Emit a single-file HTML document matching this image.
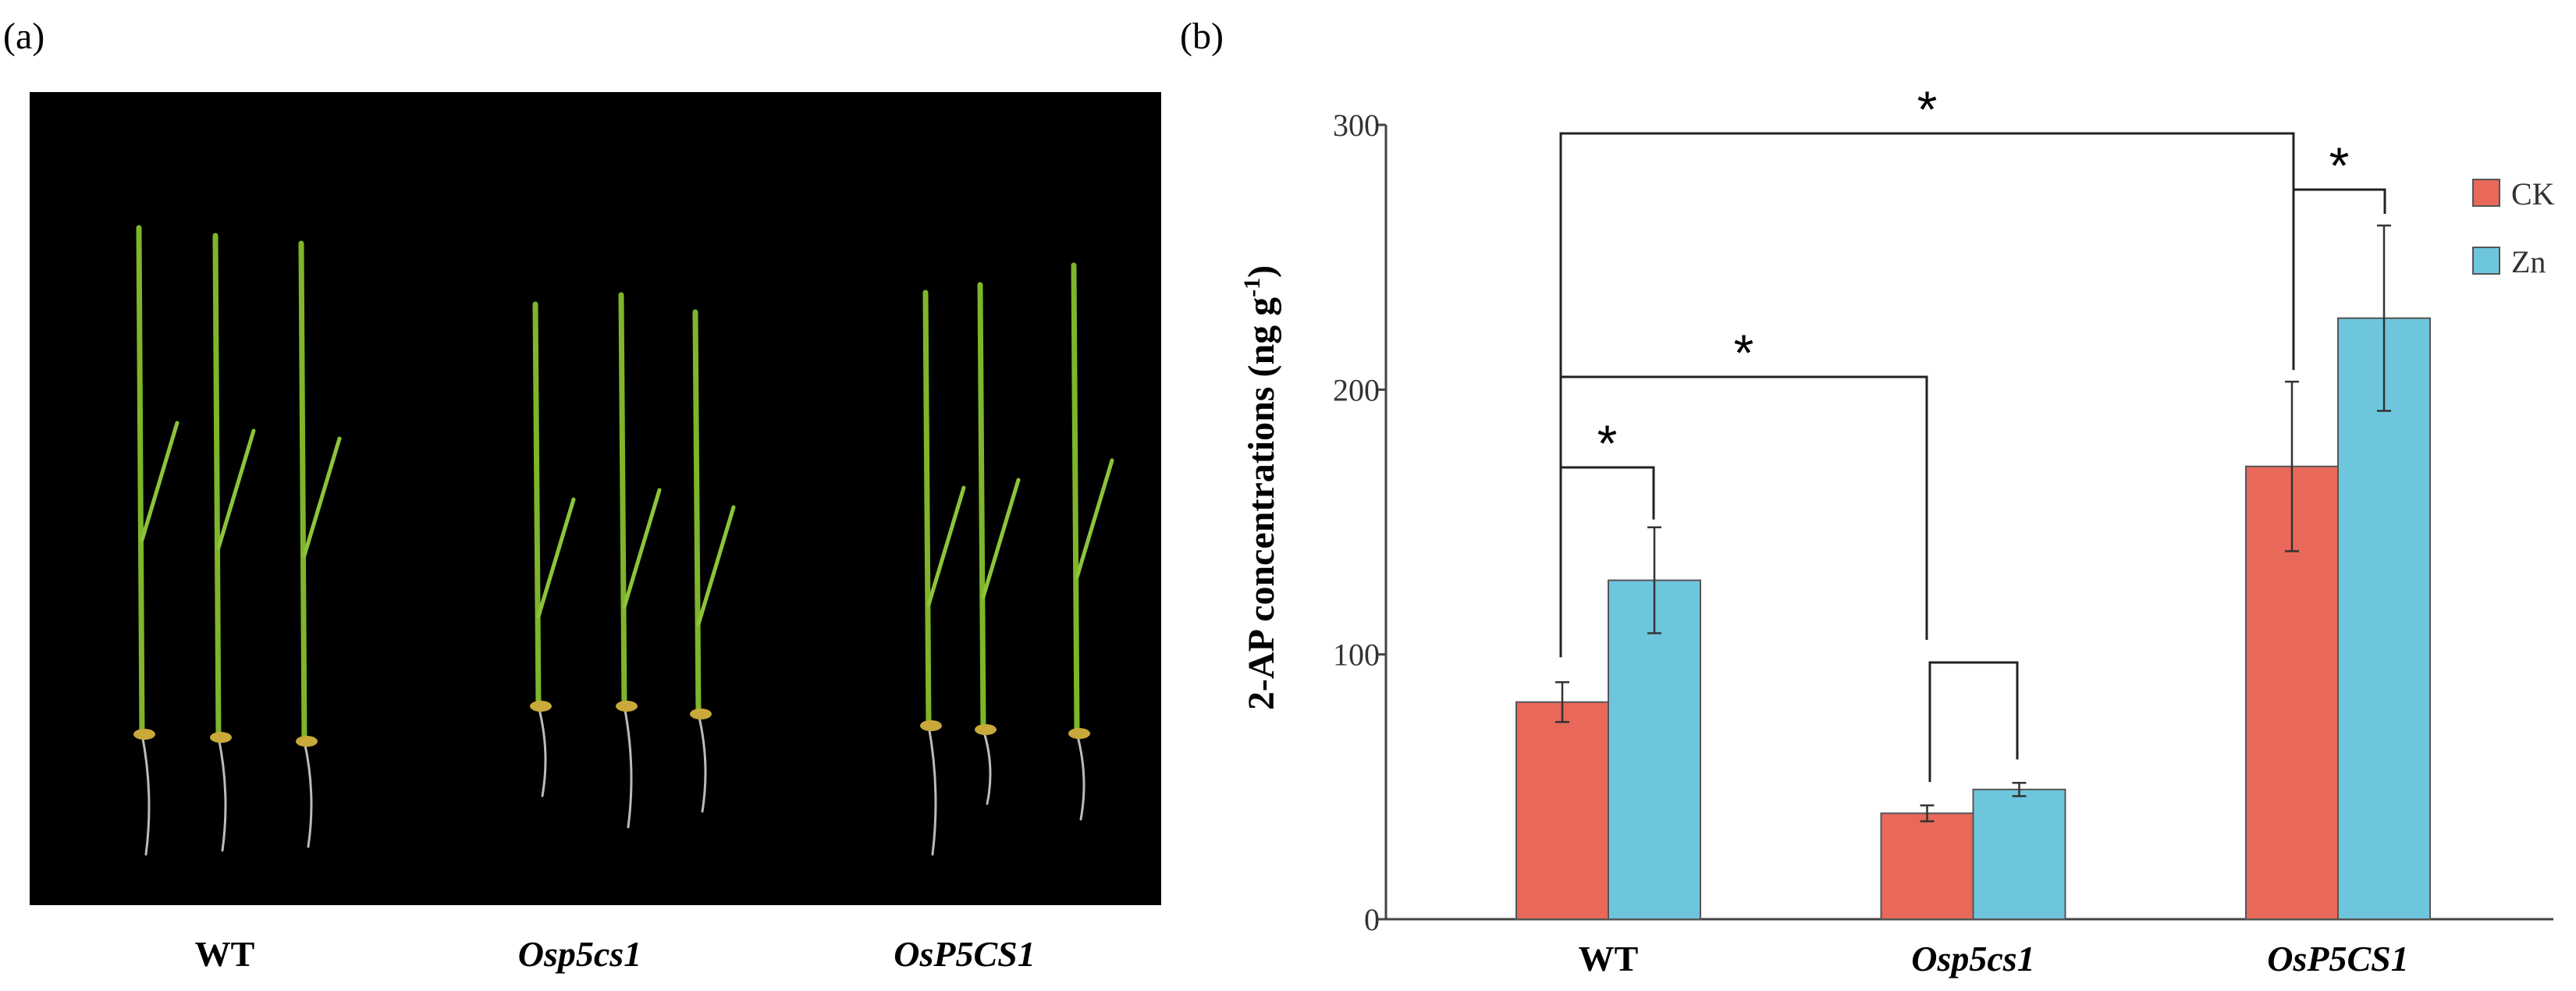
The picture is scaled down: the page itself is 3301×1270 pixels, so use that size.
<!DOCTYPE html>
<html><head><meta charset="utf-8"><style>
html,body{margin:0;padding:0;background:#fff;}
svg{display:block;font-family:"Liberation Serif",serif;}
</style></head><body>
<svg width="3301" height="1270" viewBox="0 0 3301 1270" xmlns="http://www.w3.org/2000/svg">
<g>
<text x="4" y="62" font-size="48">(a)</text>
<rect x="38" y="118" width="1450" height="1042" fill="#000"/>
<g id="plants" fill="none" stroke-linecap="round"></g>
<text x="288" y="1238" font-size="46" font-weight="bold" text-anchor="middle">WT</text>
<text x="743" y="1238" font-size="46" font-weight="bold" font-style="italic" text-anchor="middle">Osp5cs1</text>
<text x="1236" y="1238" font-size="46" font-weight="bold" font-style="italic" text-anchor="middle">OsP5CS1</text>
</g>
<g id="chart">
<text x="1512" y="62" font-size="48">(b)</text>
</g>
</svg>
<script>
const NS='http://www.w3.org/2000/svg';
function mk(p,t,a){const e=document.createElementNS(NS,t);for(const k in a)e.setAttribute(k,a[k]);p.appendChild(e);return e;}
const plants=document.getElementById('plants');
const P=[[182,292,941,1095],[280,302,945,1090],[390,312,950,1085],[690,390,905,1020],[800,378,905,1060],[895,400,915,1040],[1190,375,930,1095],[1260,365,935,1030],[1380,340,940,1050]];
P.forEach((p,i)=>{
  const s=mk(plants,'path',{d:`M${p[0]} ${p[2]} L${p[0]-4} ${p[1]}`,stroke:'#7fb52a','stroke-width':7});
  
  
  const l=mk(plants,'path',{d:`M${p[0]} ${p[1]+400} L${p[0]+45} ${p[1]+250}`,stroke:'#8cc43a','stroke-width':5});
  
  
  const r=mk(plants,'path',{d:`M${p[0]} ${p[2]} Q${p[0]+15} ${(p[2]+p[3])/2} ${p[0]+5} ${p[3]}`,stroke:'#bbb','stroke-width':3});
  
  
  const sd=mk(plants,'ellipse',{cx:p[0]+3,cy:p[2],rx:14,ry:7,fill:'#c9a93a'});
  
  
});

const categories=['WT','Osp5cs1','OsP5CS1'];
const ckValues=[82,40,171];
const ckErrors=[7.5,3,32];
const znValues=[128,49,227];
const znErrors=[20,2.5,35];
const yTicks=[0,100,200,300];
const seriesNames=['CK','Zn'];

const g=document.getElementById('chart');
const X0=1776,X1=3272,Y0=1178,Y300=160;
const y=v=>Y0-(v/300)*(Y0-Y300);
const groupCenter=i=>2061+i*467.5;
const BW=118;

let e=mk(g,'line',{x1:X0,y1:Y0,x2:X1,y2:Y0,stroke:'#444','stroke-width':3});


e=mk(g,'line',{x1:X0,y1:Y0,x2:X0,y2:Y300,stroke:'#444','stroke-width':3});


yTicks.forEach(t=>{
  const tk=mk(g,'line',{x1:X0-10,y1:y(t),x2:X0,y2:y(t),stroke:'#444','stroke-width':3});
  
  
  const tl=mk(g,'text',{x:X0-8,y:y(t)+14,'font-size':40,'text-anchor':'end',fill:'#333'});
  tl.textContent=t;
  
  
});
const yt=mk(g,'text',{x:0,y:0,'font-size':48,'font-weight':'bold','text-anchor':'middle',transform:'translate(1632,625) rotate(-90)'});
yt.innerHTML='2-AP concentrations (ng g<tspan font-size="30" dy="-18">-1</tspan><tspan dy="18">)</tspan>';



function bar(x,v,err,color,name){
  const r=mk(g,'rect',{x:x,y:y(v),width:BW,height:Y0-y(v),fill:color,stroke:'#555','stroke-width':2});
  
  
  const cx=x+BW/2;
  const eb=mk(g,'path',{d:`M${cx} ${y(v+err)}V${y(v-err)}M${cx-9} ${y(v+err)}H${cx+9}M${cx-9} ${y(v-err)}H${cx+9}`,stroke:'#333','stroke-width':2.5,fill:'none'});
  
  
}
categories.forEach((c,i)=>{
  const gc=groupCenter(i);
  bar(gc-BW,ckValues[i],ckErrors[i],'#e8695a','bar-ck-'+c.toLowerCase());
  bar(gc,znValues[i],znErrors[i],'#6ec6dd','bar-zn-'+c.toLowerCase());
  const tl=mk(g,'text',{x:gc,y:1244,'font-size':46,'font-weight':'bold','text-anchor':'middle','font-style':i?'italic':'normal'});
  tl.textContent=c;
  
  
});

const br=[
  [2000,y(ckValues[0]+ckErrors[0])-32,2939,y(ckValues[2]+ckErrors[2])-15,171,true],
  [2000,580,2469,820,483,true],
  [2000,y(ckValues[0]+ckErrors[0])-32,2119,y(znValues[0]+znErrors[0])-10,599,true],
  [2473,y(ckValues[1]+ckErrors[1])-30,2585,y(znValues[1]+znErrors[1])-30,849,false],
  [2939,243,3056,y(znValues[2]+znErrors[2])-15,243,true]
];
br.forEach(b=>{
  const p=mk(g,'path',{d:`M${b[0]} ${b[1]}V${b[4]}H${b[2]}V${b[3]}`,stroke:'#222','stroke-width':3,fill:'none'});
  
  
  if(b[5]){
    const s=mk(g,'text',{x:(b[0]+b[2])/2,y:b[4]-8,'font-size':66,'text-anchor':'middle','font-family':'Liberation Sans, sans-serif'});
    s.textContent='*';
    
    
  }
});

const lc=['#e8695a','#6ec6dd'];
seriesNames.forEach((n,i)=>{
  const r=mk(g,'rect',{x:3169,y:230+i*87,width:34,height:34,fill:lc[i],stroke:'#555','stroke-width':2});
  
  
  const t=mk(g,'text',{x:3218,y:262+i*87,'font-size':40,fill:'#333'});
  t.textContent=n;
  
  
});
</script>
</body></html>
